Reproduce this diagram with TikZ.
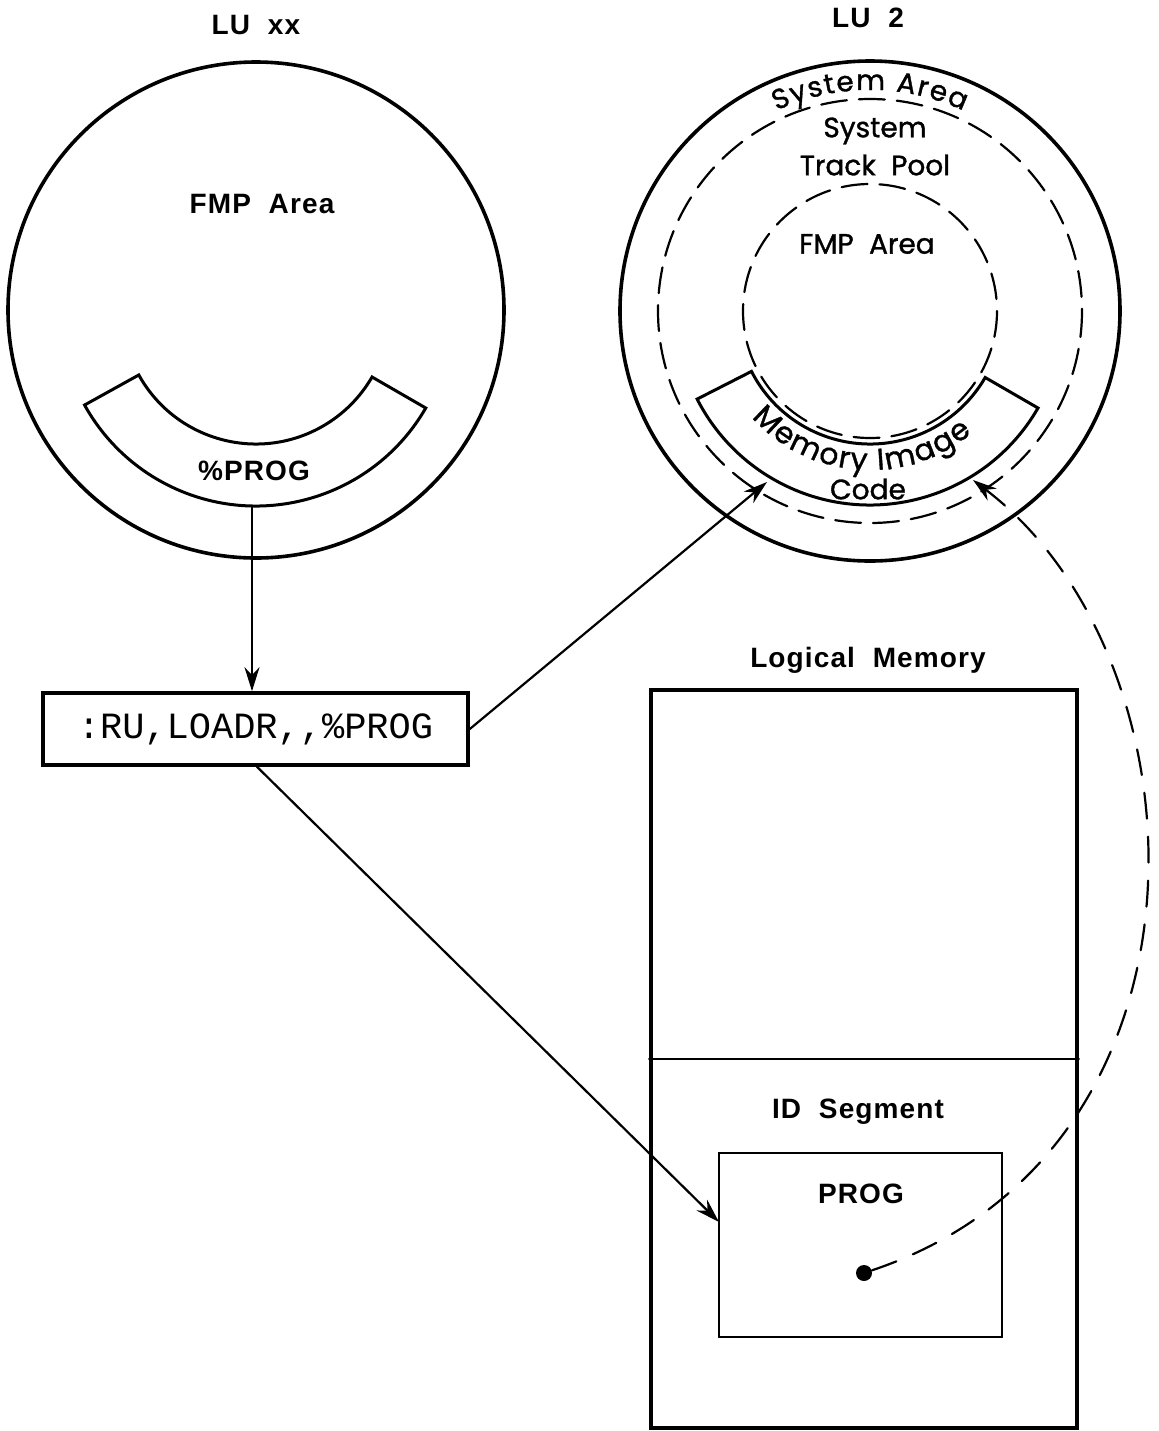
\documentclass[tikz,border=0pt]{standalone}
\usepackage{fontspec}
\setmainfont[WordSpace=2,LetterSpace=4]{Liberation Sans}
\newfontfamily\geofont[FakeBold=1.2]{Poppins}
\newfontfamily\geoarc[FakeBold=1.2]{Poppins}
\newfontfamily\termfont{Liberation Mono}
\usetikzlibrary{arrows.meta,decorations.text}

\begin{document}
\begin{tikzpicture}[x=0.5pt,y=-0.5pt,>={Stealth[length=12pt,width=7.5pt]},line cap=round,
  lbl/.style={font=\fontsize{14}{16}\selectfont\bfseries},
  geo/.style={font=\geofont\fontsize{14}{16}\selectfont},
  disk/.style={line width=1.8pt},
  zone/.style={line width=1.1pt,dash pattern=on 13pt off 6pt},
  band/.style={line width=1.5pt},
  conn/.style={->,line width=1.1pt}]
\useasboundingbox (0,0) rectangle (1159,1431);

% LU xx
\coordinate (lc) at (256,310);
\draw[disk] (lc) circle[radius=248];
\node[lbl] (luxx) at (256,25) {LU xx};
\node[lbl] (fmpl) at (262,204) {FMP Area};
\draw[band] ([shift={(151:134)}]lc) arc[start angle=151,end angle=30,radius=134]
  -- ([shift={(30:196)}]lc) arc[start angle=30,end angle=151,radius=196] -- cycle;
\node[lbl] (pprog) at (254,471) {\%PROG};
\coordinate (pbot) at (252,506);

% LU 2
\coordinate (rc) at (870,311);
\draw[disk] (rc) circle[radius=250];
\draw[zone] (rc) circle[radius=212];
\draw[zone] (rc) circle[radius=127];
\node[lbl] (lu2) at (868,18) {LU 2};
\path[decorate,decoration={text along path,text align={fit to path},
  text={|\geoarc\fontsize{14}{16}\selectfont|System Area}}]
  ([shift={(-115:221)}]rc) arc[start angle=-115,end angle=-65,radius=221];
\node[geo] (sys) at (875,131) {System};
\node[geo] (pool) at (875,165) {Track\hspace{0.55em}Pool};
\node[geo] (fmpr) at (867,244) {FMP\hspace{0.55em}Area};
\draw[band] ([shift={(153:133)}]rc) arc[start angle=153,end angle=30,radius=133]
  -- ([shift={(30:194)}]rc) arc[start angle=30,end angle=153,radius=194] -- cycle;
\path[decorate,decoration={text along path,text align={fit to path},
  text={|\geoarc\fontsize{15}{17}\selectfont|Memory Image}}]
  ([shift={(138:159)}]rc) arc[start angle=138,end angle=50,radius=159];
\node[geo] (code) at (868,489) {Code};
\coordinate (micl) at (767,482);
\coordinate (micr) at (973,480);

% command
\node[draw,line width=1.8pt,minimum width=212.5pt,minimum height=36pt,inner sep=0pt,
  font=\termfont\fontsize{18.5}{20}\selectfont] (cmd) at (255.5,729) {:RU,LOADR,,\%PROG};

% logical memory
\node[lbl] (lmt) at (868,660) {Logical Memory};
\node[draw,line width=1.8pt,minimum width=213pt,minimum height=369pt,inner sep=0pt] (mem) at (864,1059) {};
\draw[line width=1.3pt] (mem.west) -- (mem.east);
\node[lbl] (ids) at (858,1112) {ID Segment};
\node[draw,line width=1.3pt,minimum width=141.5pt,minimum height=92pt,inner sep=0pt] (prog) at (860.5,1245) {};
\node[lbl] (progt) at (861,1194) {PROG};
\node[circle,fill,inner sep=0pt,minimum size=8pt] (dot) at (864,1273) {};
\coordinate (pin) at (719,1222);

\draw[conn] (pbot) -- (pbot |- cmd.north);
\draw[conn] (cmd.east) -- (micl);
\draw[conn] ([xshift=0.75pt]cmd.south) -- (pin);
\draw[conn,dash pattern=on 13pt off 9pt] (dot) .. controls (1230,1150) and (1210,660) .. (micr);
\end{tikzpicture}
\end{document}
